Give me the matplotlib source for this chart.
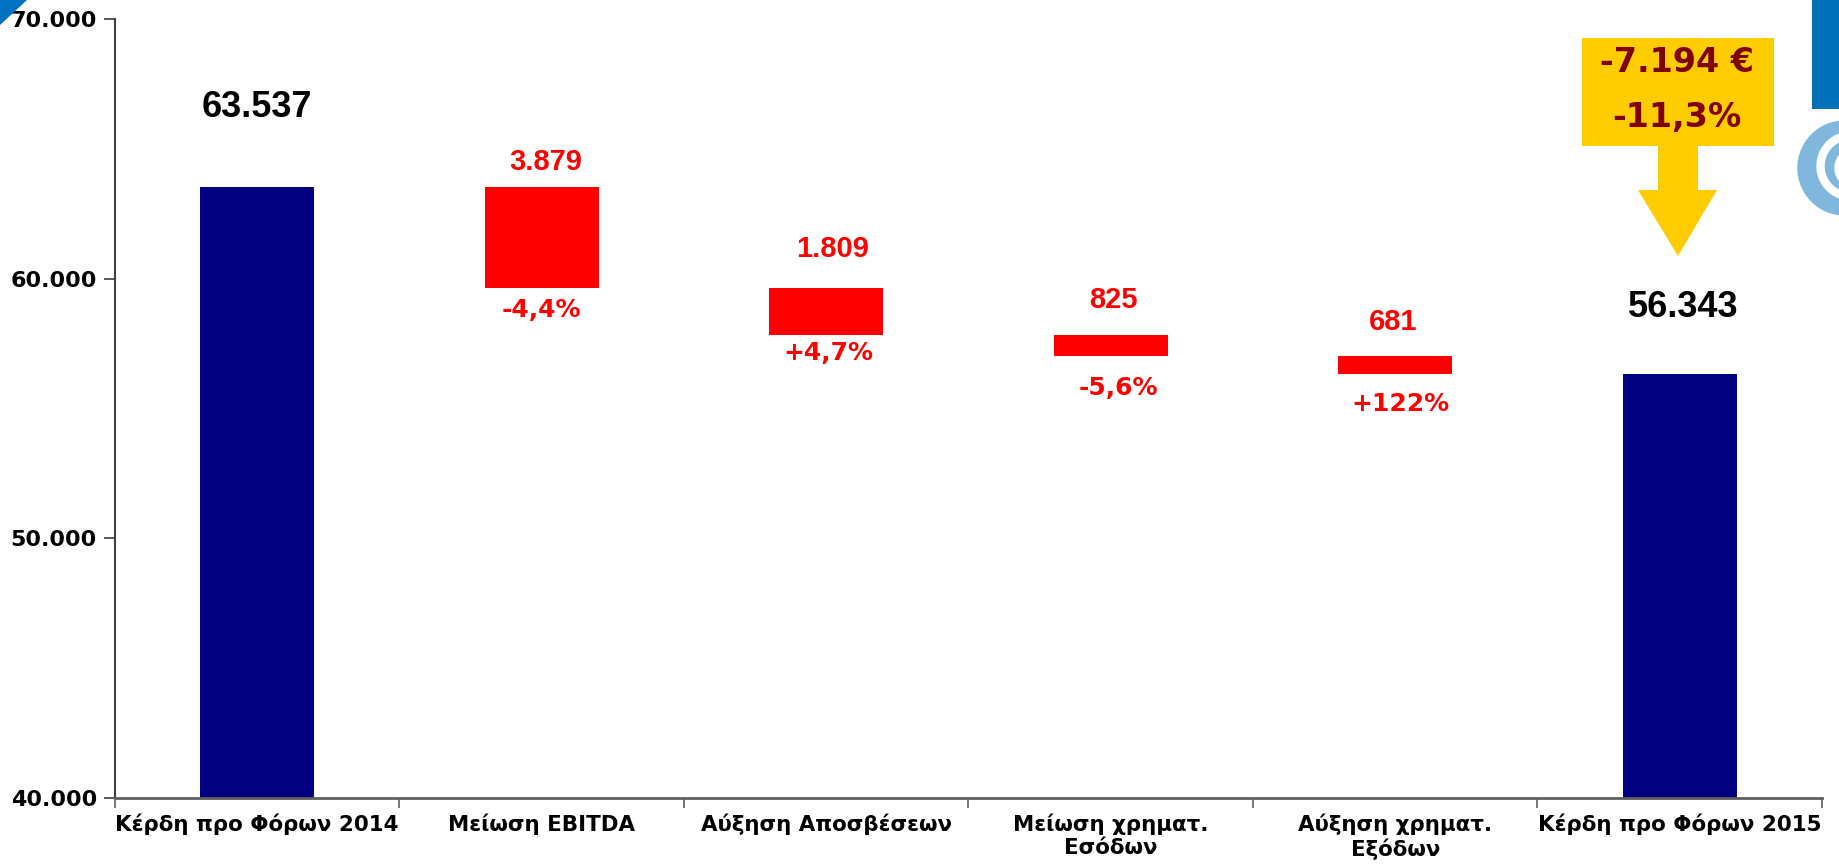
import numpy as np
import matplotlib.pyplot as plt
from matplotlib.patches import Polygon, Circle, Wedge
from matplotlib.ticker import FuncFormatter, FixedLocator

# waterfall data
categories = ["Κέρδη προ Φόρων 2014", "Μείωση EBITDA", "Αύξηση Αποσβέσεων",
              "Μείωση χρηματ.\nΕσόδων", "Αύξηση χρηματ.\nΕξόδων", "Κέρδη προ Φόρων 2015"]
start_total = 63537
changes = [-3879, -1809, -825, -681]
end_total = 56343
change_labels = ["3.879", "1.809", "825", "681"]
pct_labels = ["-4,4%", "+4,7%", "-5,6%", "+122%"]
total_labels = ["63.537", "56.343"]
summary_lines = ["-7.194 €", "-11,3%"]

W, H = 1840, 865
fig = plt.figure(figsize=(W / 100, H / 100), dpi=100)
ax = fig.add_axes([115 / W, (H - 798) / H, (1822 - 115) / W, (798 - 19) / H])

# build bottoms/heights for the floating bars
levels = np.concatenate([[start_total], start_total + np.cumsum(changes)])
bottoms = [0] + list(levels[1:]) + [0]
heights = [start_total] + [-c for c in changes] + [end_total]
colors = ["#000080"] + ["#ff0000"] * len(changes) + ["#000080"]
x = np.arange(len(categories))
ax.bar(x, heights, bottom=bottoms, width=0.4, color=colors, zorder=2)

ax.set_xlim(-0.5, len(categories) - 0.5)
ax.set_ylim(40000, 70000)
ax.set_yticks([40000, 50000, 60000, 70000])
ax.yaxis.set_major_formatter(FuncFormatter(lambda v, p: f"{v:,.0f}".replace(",", ".")))
ax.set_xticks(x)
ax.set_xticklabels(categories, multialignment="center")
ax.xaxis.set_minor_locator(FixedLocator(np.arange(len(categories) + 1) - 0.5))

for lab in ax.get_xticklabels():
    lab.set_fontfamily("DejaVu Sans")
    lab.set_fontweight("bold")
    lab.set_fontsize(15.4)
for lab in ax.get_yticklabels():
    lab.set_fontfamily("DejaVu Sans")
    lab.set_fontweight("bold")
    lab.set_fontsize(16)

ax.tick_params(axis="x", which="major", length=0, pad=11)
ax.tick_params(axis="x", which="minor", length=7, width=1.2, color="#606060")
ax.tick_params(axis="y", length=8, width=1.2, color="#404040", pad=5)
for s in ["top", "right"]:
    ax.spines[s].set_visible(False)
ax.spines["left"].set_color("#404040")
ax.spines["left"].set_linewidth(1.5)
ax.spines["bottom"].set_color("#606060")
ax.spines["bottom"].set_linewidth(2)

# labels (offsets in pixels)
arial = "Liberation Sans"
ax.annotate(total_labels[0], xy=(0, start_total), xytext=(0, 79), textcoords="offset pixels",
            ha="center", va="center", fontsize=26, fontweight="bold", family=arial)
ax.annotate(total_labels[1], xy=(5, end_total), xytext=(3, 66), textcoords="offset pixels",
            ha="center", va="center", fontsize=26, fontweight="bold", family=arial)

val_off = [(4, 25), (6, 39), (3, 35), (-2, 34)]
pct_off = [(0, -22), (2, -18), (8, -32), (5, -30)]
for i in range(len(changes)):
    top = levels[i]
    bot = levels[i + 1]
    ax.annotate(change_labels[i], xy=(i + 1, top), xytext=val_off[i], textcoords="offset pixels",
                ha="center", va="center", fontsize=21, fontweight="bold", family=arial, color="#ff0000")
    ax.annotate(pct_labels[i], xy=(i + 1, bot), xytext=pct_off[i], textcoords="offset pixels",
                ha="center", va="center", fontsize=18, fontweight="bold",
                family="DejaVu Sans", color="#ff0000")

# yellow callout arrow (figure pixel coords)
def px(xp, yp):
    return (xp / W, 1 - yp / H)

arrow_pts = [(1582, 38), (1774, 38), (1774, 146), (1698, 146), (1698, 190), (1717, 190),
             (1678, 256), (1638, 190), (1658, 190), (1658, 146), (1582, 146)]
fig.patches.append(Polygon([px(*p) for p in arrow_pts], closed=True, facecolor="#ffcc00",
                           edgecolor="none", transform=fig.transFigure))
fig.text(*px(1677, 63), summary_lines[0], ha="center", va="center", fontsize=24,
         fontweight="bold", color="#800000")
fig.text(*px(1677, 117), summary_lines[1], ha="center", va="center", fontsize=24,
         fontweight="bold", color="#800000")

# slide decorations
fig.patches.append(Polygon([px(0, 0), px(27, 0), px(0, 25)], closed=True, facecolor="#0070c0",
                           edgecolor="none", transform=fig.transFigure))
fig.patches.append(Polygon([px(1812, 0), px(1840, 0), px(1840, 109), px(1812, 109)], closed=True,
                           facecolor="#0070b8", edgecolor="none", transform=fig.transFigure))
logo_ax = fig.add_axes([1785 / W, 1 - 228 / H, 120 / W, 120 / H])
logo_ax.set_xlim(-60, 60)
logo_ax.set_ylim(-60, 60)
logo_ax.set_aspect("equal")
logo_ax.axis("off")
logo_ax.add_patch(Circle((0, 0), 47, color="#7fb8dc"))
logo_ax.add_patch(Wedge((6, 2), 34, 100, 330, width=7, color="white"))
logo_ax.add_patch(Wedge((10, 0), 20, 130, 300, width=5, color="white"))

fig.savefig("out.png", dpi=100)
